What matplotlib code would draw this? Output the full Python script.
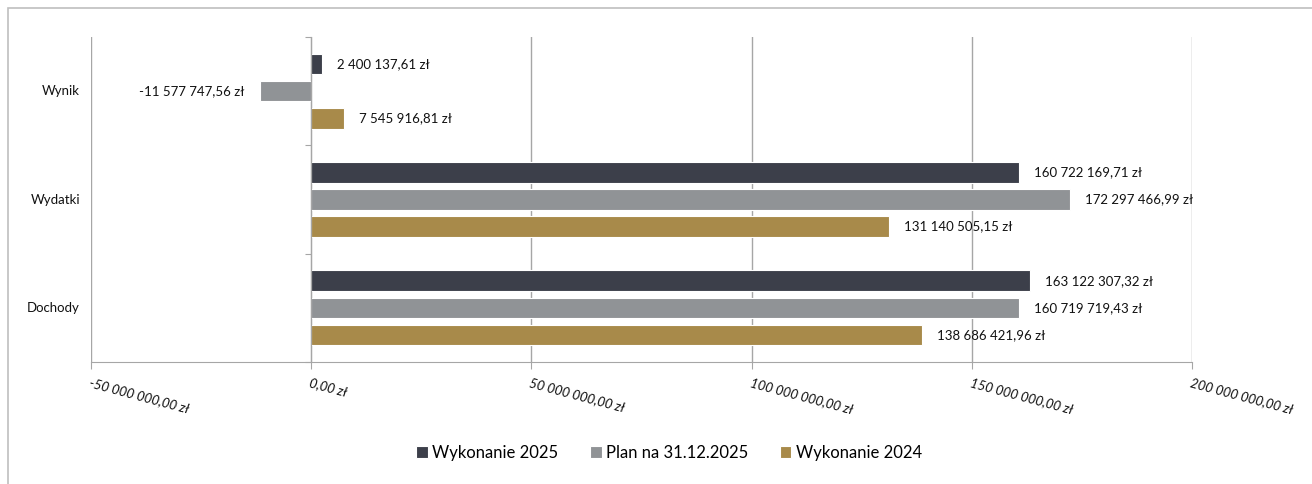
import numpy as np
import matplotlib.pyplot as plt
from matplotlib.patches import Rectangle
from matplotlib.transforms import blended_transform_factory

plt.rcParams['font.family'] = ['Lato', 'DejaVu Sans']

# dane
categories = ['Dochody', 'Wydatki', 'Wynik']
series = ['Wykonanie 2025', 'Plan na 31.12.2025', 'Wykonanie 2024']
wyk_2025 = [163122307.32, 160722169.71, 2400137.61]
plan_2025 = [160719719.43, 172297466.99, -11577747.56]
wyk_2024 = [138686421.96, 131140505.15, 7545916.81]
colors = ['#3c3f4a', '#909396', '#a88a4a']
xticks = [-50e6, 0, 50e6, 100e6, 150e6, 200e6]


def fmt(v):
    s = f"{abs(v):,.2f}".replace(',', ' ').replace('.', ',')
    return ('-' if v < 0 else '') + s + ' zł'


fig = plt.figure(figsize=(13.12, 4.84), dpi=100)
fig.patches.append(Rectangle((8 / 1312, -0.1), 1.2, 1 - 8 / 484 + 0.1,
                             transform=fig.transFigure, fill=False,
                             edgecolor='#bfbfbf', linewidth=1.2))

ax = fig.add_axes([91 / 1312, 1 - 362 / 484, (1192 - 91) / 1312, (362 - 37) / 484])

y = np.arange(len(categories))
h = 0.19
offsets = [0.25, 0.0, -0.25]
for vals, off, col, name in zip([wyk_2025, plan_2025, wyk_2024], offsets, colors, series):
    ax.barh(y + off, vals, height=h, color=col, edgecolor='white', linewidth=0.8,
            label=name, zorder=3)
    for yi, v in zip(y, vals):
        if v >= 0:
            ax.text(v + 3.4e6, yi + off, fmt(v), va='center', ha='left', fontsize=9.5,
                    color='#111111', zorder=4)
        else:
            ax.text(v - 3.5e6, yi + off, fmt(v), va='center', ha='right', fontsize=9.5,
                    color='#111111', zorder=4)

ax.set_xlim(-50e6, 200e6)
ax.set_ylim(-0.5, 2.5)
ax.set_xticks(xticks)
ax.set_xticklabels([])
ax.grid(axis='x', color='#a6a6a6', linewidth=1.0, zorder=0)

for t in xticks:
    ax.text(t, -0.63, fmt(t), rotation=-15, rotation_mode='anchor',
            ha='left', va='top', fontsize=9.5, style='italic', color='#111111',
            transform=ax.transData, clip_on=False)

ax.spines['top'].set_visible(False)
ax.spines['right'].set_visible(False)
ax.spines['left'].set_position(('data', 0))
ax.spines['left'].set_color('#a6a6a6')
ax.spines['bottom'].set_color('#a6a6a6')
ax.spines['left'].set_zorder(5)
ax.tick_params(axis='x', direction='out', length=5, color='#a6a6a6')
ax.set_yticks([-0.5, 0.5, 1.5, 2.5])
ax.set_yticklabels([])
ax.tick_params(axis='y', direction='out', length=4, color='#a6a6a6')

tr = blended_transform_factory(ax.transAxes, ax.transData)
for yi, c in zip(y, categories):
    ax.text(-0.01, yi, c, transform=tr, ha='right', va='center', fontsize=9.5,
            color='#111111')

handles, labels = ax.get_legend_handles_labels()
fig.legend(handles, labels, loc='center', bbox_to_anchor=(0.51, 1 - 453 / 484), ncol=3,
           frameon=False, fontsize=12, handlelength=0.7, handleheight=0.7,
           handletextpad=0.25, columnspacing=1.9)

fig.savefig('out.png', dpi=100)
